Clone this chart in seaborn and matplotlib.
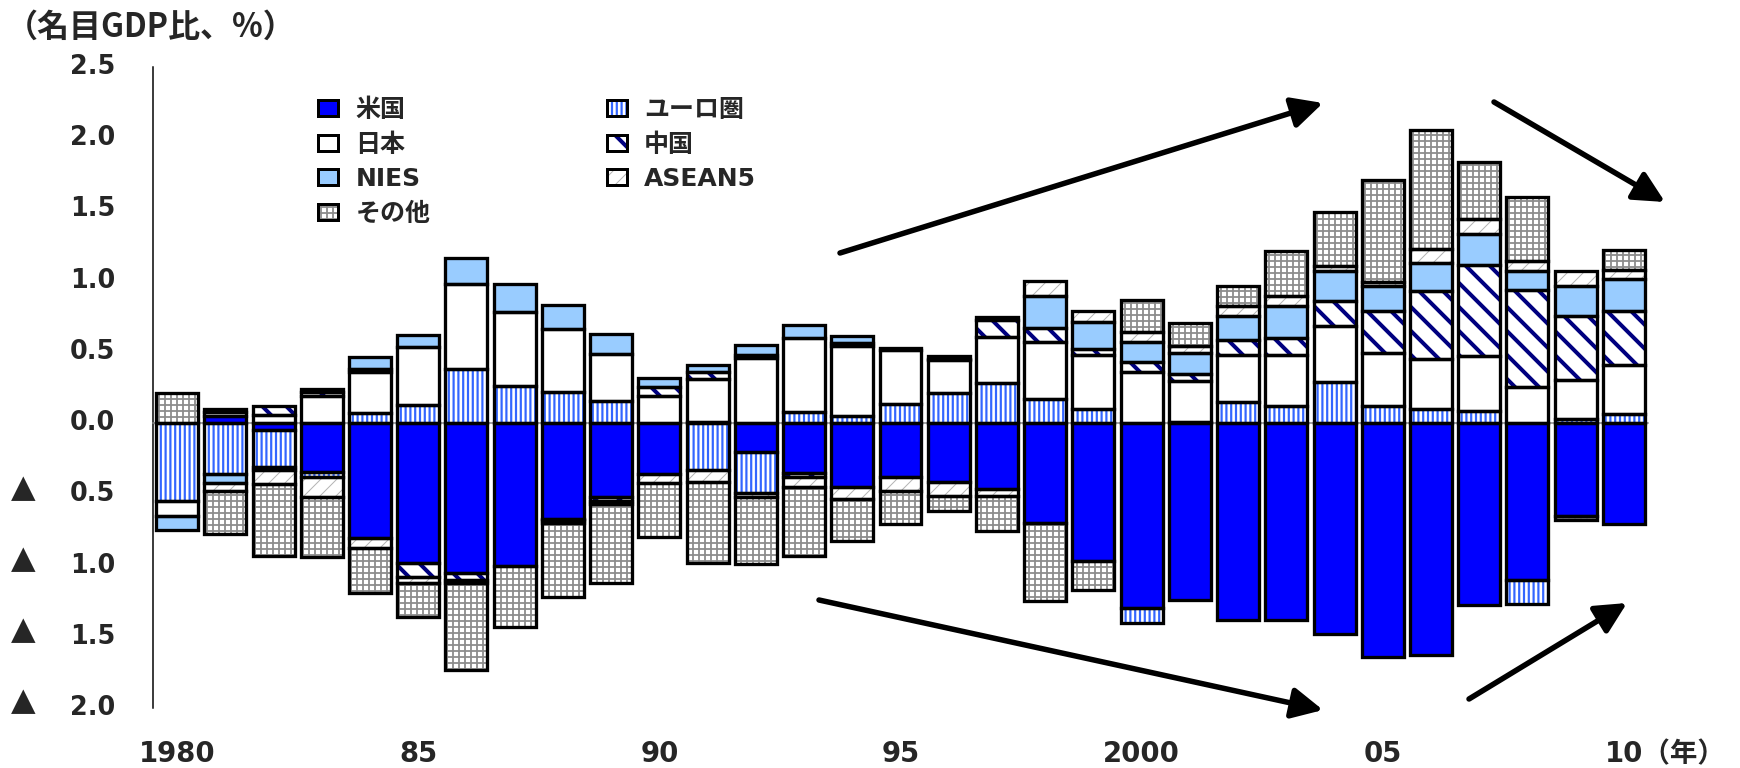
import numpy as np
import pandas as pd
import matplotlib
matplotlib.use("Agg")
import matplotlib.pyplot as plt
from matplotlib.patches import Rectangle
from matplotlib.legend_handler import HandlerBase
from matplotlib.transforms import blended_transform_factory, ScaledTranslation
import seaborn as sns

# ---- data: current-account balance contributions (% of world nominal GDP) ----
years = list(range(1980, 2011))
year_tick_labels = {1980: "1980", 1985: "85", 1990: "90", 1995: "95",
                    2000: "2000", 2005: "05", 2010: "10（年）"}

us = [0.00, 0.05, -0.05, -0.34, -0.81, -0.98, -1.05, -1.00, -0.67, -0.52,
      -0.36, 0.01, -0.20, -0.35, -0.45, -0.38, -0.41, -0.46, -0.70, -0.97,
      -1.30, -1.24, -1.38, -1.38, -1.48, -1.64, -1.63, -1.28, -1.10, -0.655,
      -0.71]
euro = [-0.55, -0.36, -0.26, -0.04, 0.07, 0.125, 0.38, 0.26, 0.22, 0.155,
        0.00, -0.33, -0.29, 0.075, 0.05, 0.136, 0.213, 0.285, 0.17, 0.10,
        -0.10, 0.01, 0.15, 0.12, 0.29, 0.12, 0.10, 0.085, -0.17, 0.03,
        0.065]
japan = [-0.10, 0.03, 0.06, 0.19, 0.29, 0.41, 0.60, 0.52, 0.44, 0.33,
         0.19, 0.30, 0.46, 0.525, 0.49, 0.38, 0.227, 0.32, 0.40, 0.375,
         0.36, 0.285, 0.33, 0.36, 0.395, 0.37, 0.35, 0.385, 0.255, 0.27,
         0.34]
china = [0.00, 0.02, 0.06, 0.03, 0.02, -0.10, -0.05, 0.00, -0.01, -0.03,
         0.065, 0.05, 0.02, -0.03, 0.02, 0.00, 0.01, 0.12, 0.10, 0.045,
         0.07, 0.05, 0.10, 0.12, 0.175, 0.30, 0.475, 0.64, 0.68, 0.45,
         0.38]
nies = [-0.10, -0.06, -0.02, 0.02, 0.085, 0.087, 0.176, 0.20, 0.17, 0.14,
        0.065, 0.05, 0.07, 0.086, 0.05, 0.01, 0.02, 0.02, 0.225, 0.19,
        0.14, 0.15, 0.175, 0.22, 0.205, 0.17, 0.20, 0.22, 0.135, 0.21,
        0.23]
asean5 = [0.00, -0.06, -0.10, -0.14, -0.07, -0.04, -0.02, 0.00, -0.02, -0.02,
          -0.06, -0.08, -0.03, -0.07, -0.08, -0.10, -0.10, -0.05, 0.105, 0.08,
          0.07, 0.045, 0.065, 0.07, 0.035, 0.03, 0.10, 0.10, 0.07, 0.11,
          0.06]
others = [0.21, -0.30, -0.50, -0.42, -0.31, -0.24, -0.61, -0.43, -0.52, -0.55,
          -0.38, -0.57, -0.47, -0.48, -0.30, -0.23, -0.11, -0.25, -0.55, -0.20,
          0.225, 0.16, 0.145, 0.32, 0.385, 0.72, 0.835, 0.40, 0.445, -0.025,
          0.14]

regions = ["米国", "ユーロ圏", "日本", "中国", "NIES", "ASEAN5", "その他"]
values = dict(zip(regions, [us, euro, japan, china, nies, asean5, others]))
legend_order = ["米国", "日本", "NIES", "その他", "ユーロ圏", "中国", "ASEAN5"]

# ---- rendering setup ----
DPI = 144
W_PX, H_PX = 1740, 768


def pt(pixels):
    """Convert a size in output pixels to points."""
    return pixels * 72.0 / DPI


styles = {
    "米国":    dict(face="#0000FF", hatch=None,     hc="#0000FF", hlw=1.0),
    "ユーロ圏": dict(face="white",   hatch="|||||",  hc="#3366FF", hlw=2.2),
    "日本":    dict(face="white",   hatch=None,     hc="white",   hlw=1.0),
    "中国":    dict(face="white",   hatch="\\\\",   hc="#000080", hlw=4.0),
    "NIES":    dict(face="#99CCFF", hatch=None,     hc="#99CCFF", hlw=1.0),
    "ASEAN5":  dict(face="white",   hatch="///",    hc="#B4B4B4", hlw=1.0),
    "その他":  dict(face="white",   hatch="++++",   hc="#8C8C8C", hlw=1.8),
}
EDGE_PX = 3.3

sns.set_style("white")
plt.rcParams["font.family"] = ["DejaVu Sans", "Noto Sans CJK JP"]
plt.rcParams["axes.unicode_minus"] = False

fig = plt.figure(figsize=(W_PX / DPI, H_PX / DPI), dpi=DPI)
ax = fig.add_axes([153 / W_PX, 1 - 708 / H_PX,
                   (1648 - 153) / W_PX, (708 - 67) / H_PX])

labels = [str(y) for y in years]
BAR_W = 0.87

# stack positives upward and negatives downward, in region order
layers = []
pos_base = np.zeros(len(years))
neg_base = np.zeros(len(years))
for name in regions:
    v = np.asarray(values[name], dtype=float)
    pos = np.where(v > 0, v, 0.0)
    neg = np.where(v < 0, v, 0.0)
    layers.append((name, pos, pos_base.copy()))
    layers.append((name, neg, neg_base.copy()))
    pos_base += pos
    neg_base += neg


def bar_layer(heights, bases, zorder, color, **kw):
    mask = heights != 0
    if not mask.any():
        return []
    df = pd.DataFrame({"year": np.array(labels)[mask], "value": heights[mask]})
    n0 = len(ax.patches)
    sns.barplot(data=df, x="year", y="value", order=labels, width=BAR_W,
                errorbar=None, ax=ax, color=color, saturation=1,
                bottom=bases[mask], zorder=zorder, **kw)
    return ax.patches[n0:]


# filled / hatched segments
for name, h, b in layers:
    st = styles[name]
    with plt.rc_context({"hatch.linewidth": pt(st["hlw"])}):
        bars = bar_layer(h, b, 3, st["face"], facecolor=st["face"],
                         edgecolor=st["hc"], linewidth=0, hatch=st["hatch"])
    for p in bars:
        if hasattr(p, "set_hatch_linewidth"):
            p.set_hatch_linewidth(pt(st["hlw"]))

# black outlines of every segment
for name, h, b in layers:
    bar_layer(h, b, 4, "black", facecolor="none", edgecolor="black",
              linewidth=pt(EDGE_PX))

# ---- axes ----
ax.set_xlim(-0.5, len(years) - 0.5)
ax.set_ylim(-2.0, 2.5)
ax.set_xlabel("")
ax.set_ylabel("")

TICK_FS = pt(25.5)
XLAB_FS = pt(27.5)
yticks = np.arange(-2.0, 2.51, 0.5)
ax.set_yticks(yticks, [f"{abs(t):.1f}" for t in yticks])
ax.tick_params(axis="y", direction="in", length=pt(15), width=pt(1.5),
               color="#555555", pad=pt(38), labelsize=TICK_FS)
for lab in ax.get_yticklabels():
    lab.set_fontweight("bold")
    lab.set_verticalalignment("center")

# negative values are marked with a triangle before the number
tri_t = (blended_transform_factory(fig.transFigure, ax.transData)
         + ScaledTranslation(0, 6 / DPI, fig.dpi_scale_trans))
for t in yticks[yticks < 0]:
    ax.text(11 / W_PX, t, "▲", transform=tri_t, ha="left", va="center",
            fontsize=pt(32), family=["DejaVu Sans"], clip_on=False)

boundaries = np.arange(-0.5, len(years), 1.0)
ax.set_xticks(boundaries, [""] * len(boundaries))
ax.tick_params(axis="x", direction="in", length=pt(9), width=pt(1.5),
               color="#888888")

for side in ("top", "right"):
    ax.spines[side].set_visible(False)
ax.spines["left"].set_linewidth(pt(1.5))
ax.spines["left"].set_color("black")
ax.spines["bottom"].set_position(("data", 0))
ax.spines["bottom"].set_color("#888888")
ax.spines["bottom"].set_linewidth(pt(1.5))
ax.set_axisbelow(True)

# year labels under the plot
xt = blended_transform_factory(ax.transData, ax.transAxes)
label_y = -(762 - 708) / (708 - 67)
half_two_digits = 0.696 * 27.5  # half the width of a two-digit label, px
for i, y in enumerate(years):
    if y not in year_tick_labels:
        continue
    text = year_tick_labels[y]
    if i == len(years) - 1:
        ax.annotate(text, xy=(i, label_y), xycoords=xt,
                    xytext=(-pt(half_two_digits), 0), textcoords="offset points",
                    ha="left", va="baseline", fontsize=XLAB_FS,
                    fontweight="bold", annotation_clip=False)
    else:
        ax.text(i, label_y, text, transform=xt, ha="center", va="baseline",
                fontsize=XLAB_FS, fontweight="bold")

# unit caption
fig.text(6 / W_PX, 1 - 27 / H_PX, "（名目GDP比、%）", ha="left", va="center",
         fontsize=pt(32), fontweight="bold",
         family=["Noto Sans CJK JP", "DejaVu Sans"])


# legend with two-layer swatches (coloured hatch + black frame)
class RegionKey:
    def __init__(self, name):
        self.name = name


class RegionSwatch(HandlerBase):
    def create_artists(self, legend, orig_handle, xdescent, ydescent,
                       width, height, fontsize, trans):
        st = styles[orig_handle.name]
        with plt.rc_context({"hatch.linewidth": pt(st["hlw"])}):
            fill = Rectangle((-xdescent, -ydescent), width, height,
                             facecolor=st["face"], edgecolor=st["hc"],
                             linewidth=0, hatch=st["hatch"], transform=trans)
        if hasattr(fill, "set_hatch_linewidth"):
            fill.set_hatch_linewidth(pt(st["hlw"]))
        frame = Rectangle((-xdescent, -ydescent), width, height,
                          facecolor="none", edgecolor="black",
                          linewidth=pt(3), transform=trans)
        return [fill, frame]


LEG_PX = 25
ax.legend([RegionKey(n) for n in legend_order], legend_order, ncol=2,
          handler_map={RegionKey: RegionSwatch()},
          loc="upper left", bbox_to_anchor=(318 / W_PX, 1 - 98 / H_PX),
          bbox_transform=fig.transFigure, frameon=False, borderpad=0,
          borderaxespad=0, handlelength=20 / LEG_PX, handleheight=15 / LEG_PX,
          handletextpad=0.7, labelspacing=0.42, columnspacing=7.05,
          prop={"size": pt(LEG_PX), "weight": "bold",
                "family": ["DejaVu Sans", "Noto Sans CJK JP"]})

# trend arrows (figure pixel coordinates, origin at top-left)
arrows = [((840, 253), (1323, 103)),
          ((1494, 102), (1665, 202)),
          ((819, 600), (1323, 710)),
          ((1469, 699), (1627, 603))]
for (x0, y0), (x1, y1) in arrows:
    fig.add_artist(plt.Annotation(
        "", xy=(x1 / W_PX, 1 - y1 / H_PX), xytext=(x0 / W_PX, 1 - y0 / H_PX),
        xycoords="figure fraction", textcoords="figure fraction",
        arrowprops=dict(arrowstyle="-|>,head_length=1.3,head_width=0.65",
                        lw=pt(5.5), color="black", shrinkA=0, shrinkB=0,
                        mutation_scale=10)))

fig.savefig("out.png", dpi=DPI)
